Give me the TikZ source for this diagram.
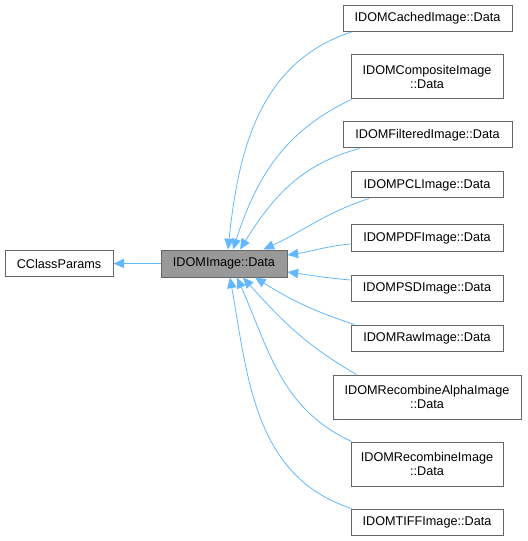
\documentclass[tikz,border=0pt]{standalone}
\usepackage{fontspec}
\setmainfont{Liberation Sans}
\usetikzlibrary{arrows.meta}
\definecolor{edgeblue}{HTML}{63B8FF}
\definecolor{boxline}{HTML}{666666}
\definecolor{rootfill}{HTML}{999999}
\tikzset{
  cls/.style={draw=boxline,fill=white,line width=0.75pt,inner sep=0pt,
    minimum width=114pt,minimum height=19.5pt,align=center,
    font=\fontsize{9.5}{10.5}\selectfont},
  root/.style={cls,fill=rootfill},
  inh/.style={draw=edgeblue,line width=0.6pt,
    -{Triangle[length=8pt,width=7pt,fill=edgeblue]}}
}
\begin{document}
\begin{tikzpicture}[x=0.75pt,y=0.75pt]
  \useasboundingbox (0,0) rectangle (527,-541);
  % base and the class itself
  \node[cls,minimum width=81pt] (params) at (59,-263.5) {CClassParams};
  \node[root,minimum width=94.5pt,minimum height=20.25pt] (data) at (224,-263.5) {IDOMImage::Data};
  % derived classes
  \node[cls,minimum width=126.75pt] (cached) at (427.5,-18.5) {IDOMCachedImage::Data};
  \node[cls,minimum height=33pt] (composite) at (427,-77) {IDOMCompositeImage\\::Data};
  \node[cls,minimum width=126.75pt] (filtered) at (427.5,-135) {IDOMFilteredImage::Data};
  \node[cls] (pcl) at (427,-185) {IDOMPCLImage::Data};
  \node[cls] (pdf) at (427,-238) {IDOMPDFImage::Data};
  \node[cls] (psd) at (427,-288) {IDOMPSDImage::Data};
  \node[cls] (raw) at (427,-338) {IDOMRawImage::Data};
  \node[cls,minimum width=141pt,minimum height=33pt] (recalpha) at (427,-397) {IDOMRecombineAlphaImage\\::Data};
  \node[cls,minimum height=33pt] (recomb) at (427,-464) {IDOMRecombineImage\\::Data};
  \node[cls] (tiff) at (427,-522) {IDOMTIFFImage::Data};
  % inheritance edges
  \draw[inh] (data) -- (params);
  \draw[inh] ([xshift=6.75pt]cached.south west) to[out=198,in=84] ([xshift=3pt]data.north);
  \draw[inh] ([xshift=0.75pt]composite.south west) to[out=205,in=72] ([xshift=6.75pt]data.north);
  \draw[inh] ([xshift=12.75pt]filtered.south west) to[out=195,in=58] ([xshift=12pt]data.north);
  \draw[inh] ([xshift=14pt]pcl.south west) to[out=198,in=25] ([xshift=-18pt]data.north east);
  \draw[inh] ([yshift=-4.5pt]pdf.west) to[out=185,in=8] ([yshift=6.4pt]data.east);
  \draw[inh] ([yshift=6pt]psd.west) to[out=175,in=-8] ([yshift=-6.4pt]data.east);
  \draw[inh] ([xshift=3pt]raw.north west) to[out=162,in=-32] ([xshift=23.25pt]data.south);
  \draw[inh] ([xshift=18pt]recalpha.north west) to[out=150,in=-48] ([xshift=14.25pt]data.south);
  \draw[inh] ([xshift=0.75pt]recomb.north west) to[out=155,in=-66] ([xshift=9.75pt]data.south);
  \draw[inh] ([xshift=0.75pt]tiff.north west) to[out=162,in=-80] ([xshift=4.5pt]data.south);
\end{tikzpicture}
\end{document}
